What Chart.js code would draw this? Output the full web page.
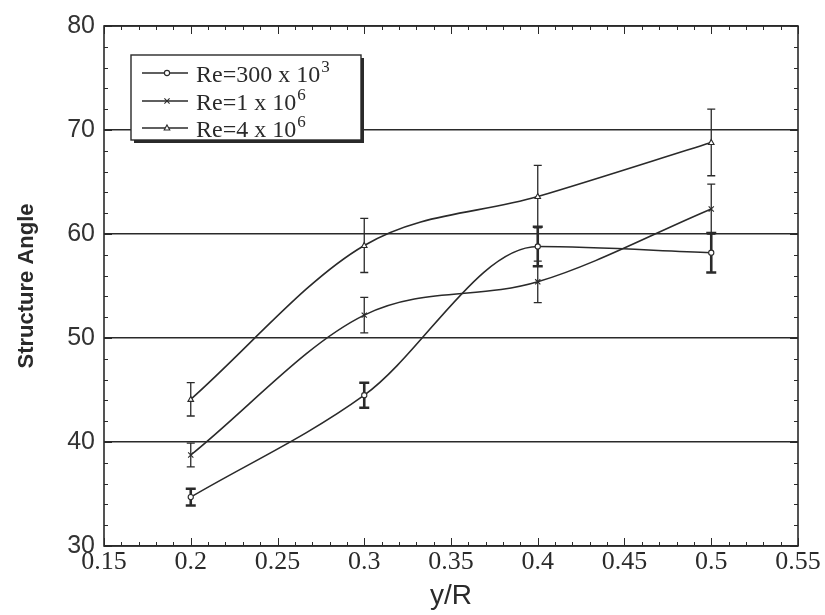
<!DOCTYPE html>
<html><head><meta charset="utf-8">
<script src="https://cdn.jsdelivr.net/npm/chart.js@4/dist/chart.umd.min.js"></script>
<style>html,body{margin:0;padding:0;background:#fff}#wrap{width:825px;height:615px}</style>
</head><body><div id="wrap"><canvas id="c" width="825" height="615"></canvas></div>
<script>
// ---- data ----
const xValues = [0.2, 0.3, 0.4, 0.5];
const re300Values = [34.7, 44.5, 58.8, 58.2];
const re300Errors = [0.8, 1.2, 1.9, 1.9];
const re1e6Values = [38.75, 52.2, 55.4, 62.4];
const re1e6Errors = [1.15, 1.7, 2.0, 2.4];
const re4e6Values = [44.1, 58.9, 63.6, 68.8];
const re4e6Errors = [1.6, 2.6, 3.0, 3.2];
const seriesBase = ['Re=300 x 10', 'Re=1 x 10', 'Re=4 x 10'];
const seriesExp = ['3', '6', '6'];
const xTickValues = [0.15, 0.2, 0.25, 0.3, 0.35, 0.4, 0.45, 0.5, 0.55];
const yTickValues = [30, 40, 50, 60, 70, 80];
const xTitle = 'y/R';
const yTitle = 'Structure Angle';

const INK = '#2a2a2a';
const pts = (ys) => xValues.map((x, i) => ({x: x, y: ys[i]}));
const allErrors = [re300Errors, re1e6Errors, re4e6Errors];
const allValues = [re300Values, re1e6Values, re4e6Values];
const markerStyles = ['circle', 'crossRot', 'triangle'];

function drawMarker(ctx, style, x, y) {
  ctx.save();
  ctx.strokeStyle = INK; ctx.fillStyle = '#fff'; ctx.lineWidth = 1.1;
  ctx.beginPath();
  if (style === 'circle') { ctx.arc(x, y, 2.6, 0, Math.PI * 2); ctx.fill(); ctx.stroke(); }
  else if (style === 'crossRot') { ctx.moveTo(x-2.6,y-2.6); ctx.lineTo(x+2.6,y+2.6); ctx.moveTo(x+2.6,y-2.6); ctx.lineTo(x-2.6,y+2.6); ctx.stroke(); }
  else { ctx.moveTo(x, y-3); ctx.lineTo(x+2.8, y+2); ctx.lineTo(x-2.8, y+2); ctx.closePath(); ctx.fill(); ctx.stroke(); }
  ctx.restore();
}

const decorPlugin = {
  id: 'decor',
  beforeDatasetsDraw(chart) {
    const {ctx, chartArea: a, scales: {x, y}} = chart;
    ctx.save();
    ctx.strokeStyle = INK;
    ctx.lineWidth = 1.6;
    ctx.strokeRect(a.left, a.top, a.right - a.left, a.bottom - a.top);
    ctx.lineWidth = 1;
    ctx.beginPath();
    for (let k = 0; k <= 40; k++) {
      const v = 0.15 + k * 0.01;
      const px = Math.round(x.getPixelForValue(v)) + 0.5;
      const len = (k % 5 === 0) ? 8 : 4;
      ctx.moveTo(px, a.bottom); ctx.lineTo(px, a.bottom - len);
      ctx.moveTo(px, a.top); ctx.lineTo(px, a.top + len);
    }
    for (let v = 30; v <= 80; v += 2) {
      const py = Math.round(y.getPixelForValue(v)) + 0.5;
      const len = (v % 10 === 0) ? 8 : 4;
      ctx.moveTo(a.left, py); ctx.lineTo(a.left + len, py);
      ctx.moveTo(a.right, py); ctx.lineTo(a.right - len, py);
    }
    ctx.stroke();
    ctx.restore();
  },
  afterDatasetsDraw(chart) {
    const {ctx, scales: {x, y}} = chart;
    ctx.save();
    ctx.strokeStyle = INK;
    allValues.forEach((vals, s) => {
      const errs = allErrors[s];
      const heavy = s === 0;
      ctx.lineWidth = heavy ? 2.6 : 1.3;
      const cap = heavy ? 5 : 4;
      vals.forEach((v, j) => {
        const px = x.getPixelForValue(xValues[j]);
        const t = y.getPixelForValue(v + errs[j]);
        const b = y.getPixelForValue(v - errs[j]);
        ctx.beginPath();
        ctx.moveTo(px, t); ctx.lineTo(px, b);
        ctx.moveTo(px - cap, t); ctx.lineTo(px + cap, t);
        ctx.moveTo(px - cap, b); ctx.lineTo(px + cap, b);
        ctx.stroke();
      });
    });
    ctx.restore();
    allValues.forEach((vals, s) => {
      vals.forEach((v, j) => drawMarker(ctx, markerStyles[s], x.getPixelForValue(xValues[j]), y.getPixelForValue(v)));
    });
  },
  afterDraw(chart) {
    const {ctx, chartArea: a} = chart;
    const bx = a.left + 27, by = a.top + 29, bw = 230, bh = 85;
    ctx.save();
    ctx.fillStyle = INK;
    ctx.fillRect(bx + 3, by + 3, bw, bh);
    ctx.fillStyle = '#fff';
    ctx.fillRect(bx, by, bw, bh);
    ctx.strokeStyle = INK; ctx.lineWidth = 1.4;
    ctx.strokeRect(bx, by, bw, bh);
    const rows = [18, 46, 73];
    rows.forEach((ry, i) => {
      const yy = by + ry;
      ctx.lineWidth = 1.3;
      ctx.beginPath(); ctx.moveTo(bx + 11, yy); ctx.lineTo(bx + 57, yy); ctx.stroke();
      drawMarker(ctx, markerStyles[i], bx + 36, yy);
      ctx.fillStyle = INK;
      ctx.textBaseline = 'alphabetic'; ctx.textAlign = 'left';
      ctx.font = '24px "Liberation Serif", serif';
      const tx = bx + 65;
      ctx.fillText(seriesBase[i], tx, yy + 9);
      const w = ctx.measureText(seriesBase[i]).width;
      ctx.font = '17px "Liberation Serif", serif';
      ctx.fillText(seriesExp[i], tx + w + 1, yy - 1);
    });
    ctx.restore();
  }
};

new Chart(document.getElementById('c'), {
  type: 'line',
  data: {
    datasets: [
      {label: seriesBase[0] + seriesExp[0], data: pts(re300Values)},
      {label: seriesBase[1] + seriesExp[1], data: pts(re1e6Values)},
      {label: seriesBase[2] + seriesExp[2], data: pts(re4e6Values)}
    ].map(d => Object.assign(d, {borderColor: INK, borderWidth: 1.6, cubicInterpolationMode: 'monotone', pointRadius: 0, fill: false}))
  },
  options: {
    responsive: false,
    animation: false,
    devicePixelRatio: 1,
    layout: {padding: {top: 26, right: 27, left: 0, bottom: 0}},
    plugins: {legend: {display: false}, tooltip: {enabled: false}},
    scales: {
      x: {
        type: 'linear', min: 0.15, max: 0.55,
        afterBuildTicks: (s) => { s.ticks = xTickValues.map(v => ({value: v})); },
        afterFit: (s) => { s.height = 69; },
        grid: {display: false, drawTicks: false},
        border: {display: false},
        ticks: {
          color: INK, padding: 1,
          font: {family: '"Liberation Serif", serif', size: 26},
          callback: (v) => String(Number(v.toFixed(2)))
        },
        title: {display: true, text: xTitle, color: INK, font: {family: '"Liberation Sans", sans-serif', size: 28}, padding: {top: 0, bottom: 2}}
      },
      y: {
        type: 'linear', min: 30, max: 80,
        afterBuildTicks: (s) => { s.ticks = yTickValues.map(v => ({value: v})); },
        afterFit: (s) => { s.width = 104; },
        grid: {color: INK, lineWidth: 1.6, drawTicks: false},
        border: {display: false},
        ticks: {color: '#333', padding: 9, font: {family: '"Liberation Sans", sans-serif', size: 25}},
        title: {display: true, text: yTitle, color: INK, font: {family: '"Liberation Sans", sans-serif', size: 22, weight: 'bold'}, padding: {top: 14, bottom: 0}}
      }
    }
  },
  plugins: [decorPlugin]
});
</script></body></html>
